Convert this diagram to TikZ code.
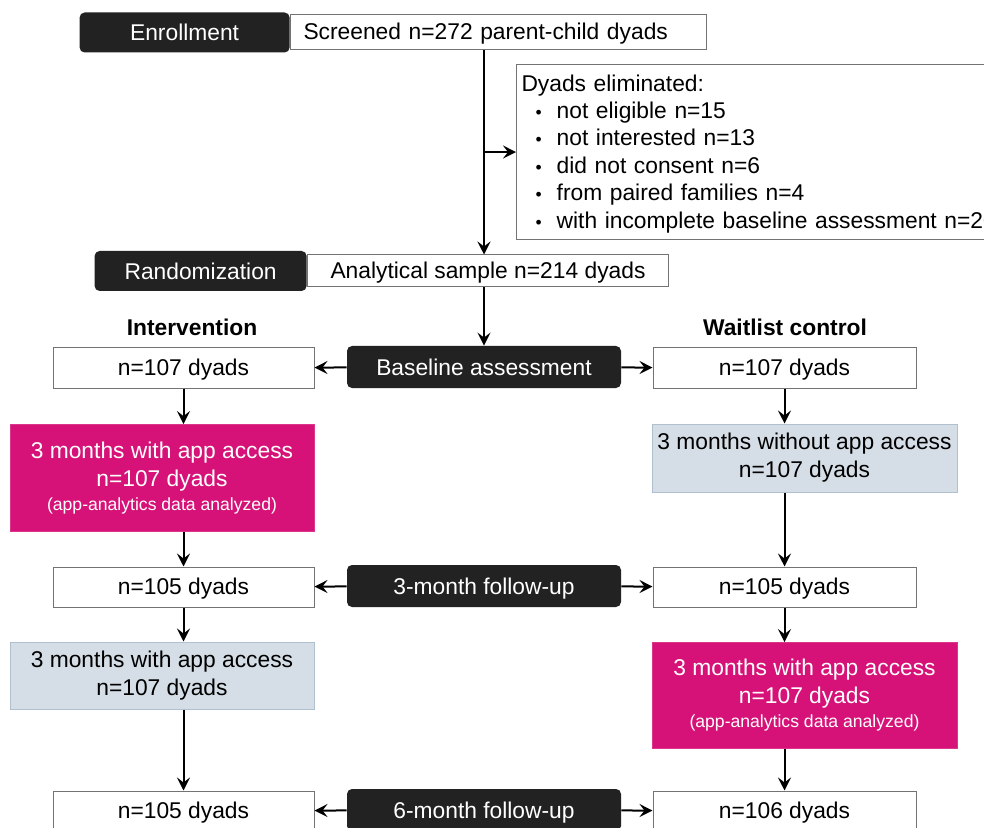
\documentclass[tikz,border=0pt]{standalone}
\usepackage{fontspec}
\setmainfont{Liberation Sans}
\usetikzlibrary{positioning,arrows.meta}
\definecolor{darkbox}{RGB}{34,34,34}
\definecolor{appmag}{RGB}{214,18,120}
\definecolor{nogrey}{RGB}{213,222,230}
\definecolor{nogreyl}{RGB}{176,192,206}
\newcommand{\fs}{\fontsize{11.4}{14}\selectfont}
\newcommand{\fsm}{\fontsize{8.8}{10}\selectfont}
\newcommand{\blt}{\hspace*{7pt}{\fsm\textbullet}\hspace{7.5pt}}
\tikzstyle{phase} = [fill=darkbox, rounded corners=2.5pt, text=white, minimum height=20pt, font=\fs, inner sep=2pt, text depth=0pt]
\tikzstyle{nbox} = [draw=black!55, line width=0.5pt, fill=white, minimum height=20pt, font=\fs, inner sep=2pt, text depth=1pt]
\tikzstyle{listbox} = [draw=black!55, line width=0.5pt, fill=white, align=left, inner xsep=2.5pt, font=\fontsize{11.4}{13.7}\selectfont]
\tikzstyle{appon} = [fill=appmag, draw=appmag!85!white, text=white, align=center, font=\fs, inner sep=2pt]
\tikzstyle{appoff} = [fill=nogrey, draw=nogreyl, line width=0.5pt, align=center, font=\fs, inner sep=2pt]
\tikzstyle{arm} = [font=\fs\bfseries]
\tikzstyle{to} = [->,>={Stealth[length=6.5pt,width=6.5pt,inset=2.5pt]},line width=1pt]
\begin{document}
\begin{tikzpicture}[x=0.5pt,y=-0.5pt]
		\useasboundingbox (0,0) rectangle (984,828);
		\clip (0,0) rectangle (984,828);
		% enrollment
		\node (scr) [nbox, anchor=west, minimum width=208pt, minimum height=17.5pt, text width=195pt, inner xsep=6.5pt, align=left] at (290,32.5) {Screened n=272 parent-child dyads};
		\node (enr) [phase, left=0pt of scr, minimum width=105pt, minimum height=20pt] {Enrollment};
		\node (elim) [listbox, anchor=north west, minimum height=87pt, text width=245pt] at (516,64)
			{\rule{0pt}{10pt}Dyads eliminated:\\
			\blt not eligible n=15\\
			\blt not interested n=13\\
			\blt did not consent n=6\\
			\blt from paired families n=4\\
			\blt with incomplete baseline assessment n=20};
		% randomization
		\node (ana) [nbox, anchor=west, minimum width=180.5pt, minimum height=16pt] at (307,271) {Analytical sample n=214 dyads};
		\node (rnd) [phase, left=0pt of ana, minimum width=106pt, minimum height=20pt] {Randomization};
		\node (hint) [arm] at (192,327) {Intervention};
		\node (hwait) [arm] at (785,327) {Waitlist control};
		% baseline
		\node (bl) [phase, minimum width=137pt, minimum height=21pt] at (484,367) {Baseline assessment};
		\node (i1) [nbox, minimum width=130.5pt] at (183.5,368) {n=107 dyads};
		\node (w1) [nbox, minimum width=131.5pt] at (784.5,368) {n=107 dyads};
		\node (i2) [appon, minimum width=152pt, minimum height=53.5pt] at (162,478)
			{3 months with app access\\ n=107 dyads\\[-2pt] {\fsm (app-analytics data analyzed)}};
		\node (w2) [appoff, minimum width=152.5pt, minimum height=34pt] at (804.5,458)
			{3 months without app access\\ n=107 dyads};
		% 3-month follow-up
		\node (f3) [phase, minimum width=137pt, minimum height=21pt] at (484,586) {3-month follow-up};
		\node (i3) [nbox, minimum width=130.5pt] at (183.5,587) {n=105 dyads};
		\node (w3) [nbox, minimum width=131.5pt] at (784.5,587) {n=105 dyads};
		\node (i4) [appoff, minimum width=152pt, minimum height=33.5pt] at (162,675.5)
			{3 months with app access\\ n=107 dyads};
		\node (w4) [appon, minimum width=152.5pt, minimum height=53pt] at (804.5,695.5)
			{3 months with app access\\ n=107 dyads\\[-2pt] {\fsm (app-analytics data analyzed)}};
		% 6-month follow-up
		\node (f6) [phase, minimum width=137pt, minimum height=21pt] at (484,810) {6-month follow-up};
		\node (i5) [nbox, minimum width=130.5pt] at (183.5,811) {n=105 dyads};
		\node (w5) [nbox, minimum width=131.5pt] at (784.5,811) {n=106 dyads};
		%
		\draw[to] (scr.south -| bl) -- (ana.north -| bl);
		\draw[to] (elim.west -| bl) -- (elim.west);
		\draw[to] (ana.south -| bl) -- (bl);
		\draw[to] (bl) -- (i1);
		\draw[to] (bl) -- (w1);
		\draw[to] (i1) -- (i1 |- i2.north);
		\draw[to] (i2.south -| i1) -- (i3);
		\draw[to] (w1) -- (w1 |- w2.north);
		\draw[to] (w2.south -| w1) -- (w3);
		\draw[to] (f3) -- (i3);
		\draw[to] (f3) -- (w3);
		\draw[to] (i3) -- (i3 |- i4.north);
		\draw[to] (i4.south -| i3) -- (i5);
		\draw[to] (w3) -- (w3 |- w4.north);
		\draw[to] (w4.south -| w3) -- (w5);
		\draw[to] (f6) -- (i5);
		\draw[to] (f6) -- (w5);
\end{tikzpicture}
\end{document}
